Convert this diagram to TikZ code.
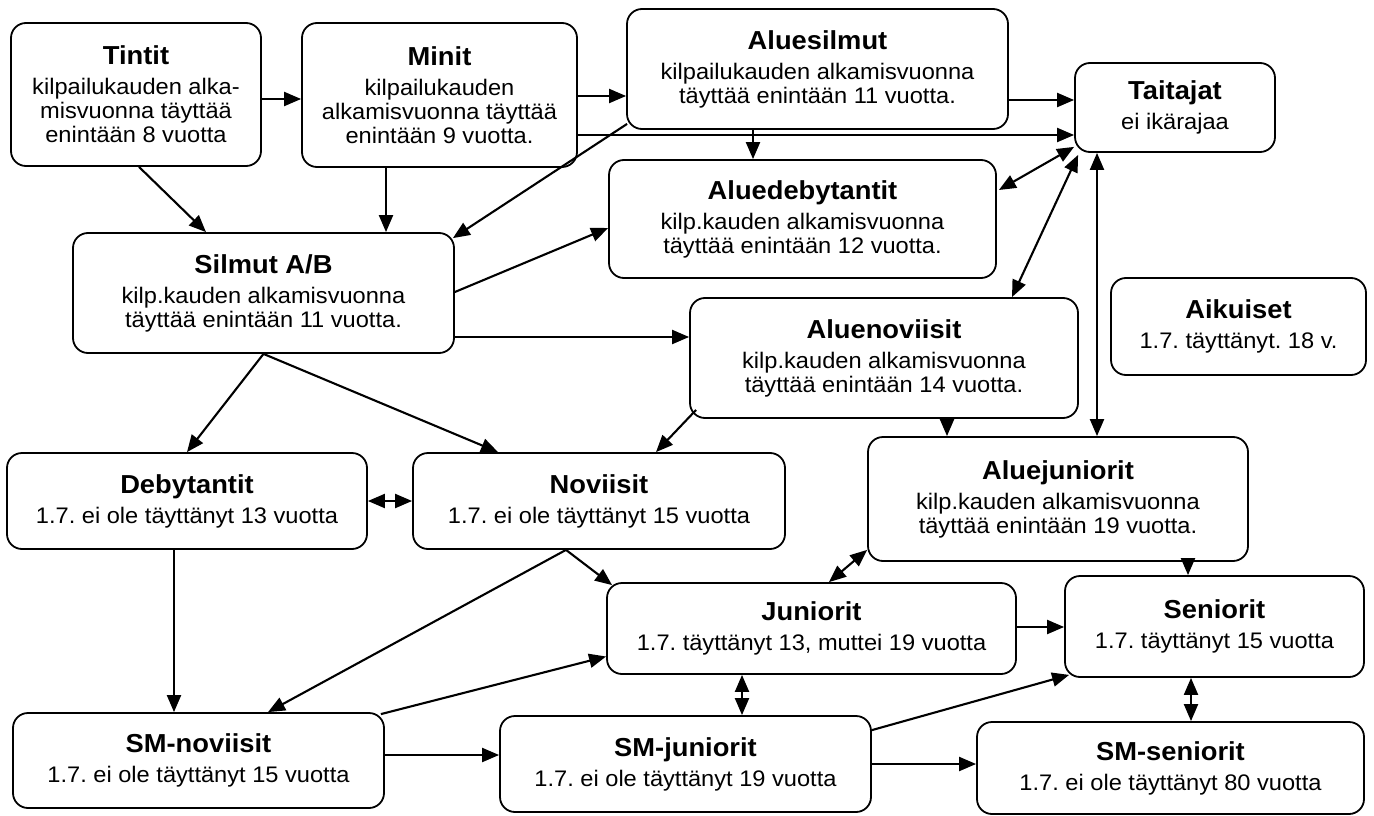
\documentclass[tikz,border=0pt]{standalone}
\usepackage{fontspec}
\setmainfont{Liberation Sans}[FakeStretch=1.05]
\usetikzlibrary{arrows.meta,calc}
\newcommand{\ttl}[1]{{\bfseries\fontsize{26}{24}\selectfont #1}\\[6pt]}
\frenchspacing
\begin{document}
\begin{tikzpicture}[x=1pt,y=-1pt,
  box/.style={draw,line width=1.8pt,rounded corners=15pt,align=center,inner sep=0pt,
    font=\frenchspacing\fontsize{22.5}{24}\selectfont},
  conn/.style={line width=2.1pt,-{Triangle[length=17pt,width=14pt]}},
  dconn/.style={line width=2.1pt,{Triangle[length=17pt,width=14pt]}-{Triangle[length=17pt,width=14pt]}},
]
\useasboundingbox (0,0) rectangle (1374,816);

\node[box,minimum width=250pt,minimum height=143pt] (tintit) at (136,94.5)
  {\ttl{Tintit}kilpailukauden alka-\\misvuonna täyttää\\enintään 8 vuotta};
\node[box,minimum width=275pt,minimum height=144pt] (minit) at (439.5,95)
  {\ttl{Minit}kilpailukauden\\alkamisvuonna täyttää\\enintään 9 vuotta.};
\node[box,minimum width=381pt,minimum height=120pt] (aluesilmut) at (817.5,69)
  {\ttl{Aluesilmut}kilpailukauden alkamisvuonna\\täyttää enintään 11 vuotta.};
\node[box,minimum width=200pt,minimum height=89pt] (taitajat) at (1175,107.5)
  {\ttl{Taitajat}ei ikärajaa};
\node[box,minimum width=387pt,minimum height=118pt] (aluedebytantit) at (802.5,219)
  {\ttl{Aluedebytantit}kilp.kauden alkamisvuonna\\täyttää enintään 12 vuotta.};
\node[box,minimum width=381pt,minimum height=120pt] (silmut) at (263.5,293)
  {\ttl{Silmut A/B}kilp.kauden alkamisvuonna\\täyttää enintään 11 vuotta.};
\node[box,minimum width=255pt,minimum height=97pt] (aikuiset) at (1238.5,326.5)
  {\ttl{Aikuiset}1.7. täyttänyt. 18 v.};
\node[box,minimum width=388pt,minimum height=120pt] (aluenoviisit) at (884,358)
  {\ttl{Aluenoviisit}kilp.kauden alkamisvuonna\\täyttää enintään 14 vuotta.};
\node[box,minimum width=360pt,minimum height=96pt] (debytantit) at (187,501)
  {\ttl{Debytantit}1.7. ei ole täyttänyt 13 vuotta};
\node[box,minimum width=372pt,minimum height=96pt] (noviisit) at (599,501)
  {\ttl{Noviisit}1.7. ei ole täyttänyt 15 vuotta};
\node[box,minimum width=380pt,minimum height=124pt] (aluejuniorit) at (1058,499)
  {\ttl{Aluejuniorit}kilp.kauden alkamisvuonna\\täyttää enintään 19 vuotta.};
\node[box,minimum width=409pt,minimum height=91pt] (juniorit) at (811.5,628.5)
  {\ttl{Juniorit}1.7. täyttänyt 13, muttei 19 vuotta};
\node[box,minimum width=299pt,minimum height=101pt] (seniorit) at (1214.5,626.5)
  {\ttl{Seniorit}1.7. täyttänyt 15 vuotta};
\node[box,minimum width=371pt,minimum height=95pt] (smnoviisit) at (198.5,760.5)
  {\ttl{SM-noviisit}1.7. ei ole täyttänyt 15 vuotta};
\node[box,minimum width=371pt,minimum height=96pt] (smjuniorit) at (685.5,764)
  {\ttl{SM-juniorit}1.7. ei ole täyttänyt 19 vuotta};
\node[box,minimum width=387pt,minimum height=92pt] (smseniorit) at (1170.5,768)
  {\ttl{SM-seniorit}1.7. ei ole täyttänyt 80 vuotta};

\draw[conn] ($(tintit.east)+(0,4.5)$) -- ($(minit.west)+(0,4)$);
\draw[conn] ($(minit.east)+(0,1)$) -- ($(aluesilmut.west)+(0,27)$);
\draw[conn] ($(minit.east)+(0,40)$) -- ($(taitajat.west)+(0,27.5)$);
\draw[conn] ($(aluesilmut.east)+(0,31)$) -- ($(taitajat.west)+(0,-7.5)$);
\draw[conn] ($(tintit.south)+(3,0)$) -- ($(silmut.north)+(-57.5,0)$);
\draw[conn] ($(minit.south)+(-53.5,0)$) -- ($(silmut.north)+(122.5,0)$);
\draw[conn] ($(aluesilmut.south west)+(1,-6)$) -- ($(silmut.north east)+(-2,6)$);
\draw[conn] ($(aluesilmut.south)+(-64.5,0)$) -- ($(aluedebytantit.north)+(-49.5,0)$);
\draw[conn] ($(silmut.east)+(0,-1)$) -- ($(aluedebytantit.west)+(0,9)$);
\draw[conn] ($(silmut.east)+(0,44)$) -- ($(aluenoviisit.west)+(0,-21)$);
\draw[conn] (silmut.south) -- (debytantit.north);
\draw[conn] (silmut.south) -- ($(noviisit.north)+(-101,0)$);
\draw[conn] ($(aluenoviisit.south west)+(7,-9)$) -- ($(noviisit.north)+(57,0)$);
\draw[dconn] (debytantit.east) -- (noviisit.west);
\draw[conn] ($(debytantit.south)+(-13,0)$) -- ($(smnoviisit.north)+(-24.5,0)$);
\draw[conn] ($(noviisit.south)+(-33,0)$) -- ($(smnoviisit.north)+(69.5,0)$);
\draw[conn] ($(noviisit.south)+(-33,0)$) -- ($(juniorit.north west)+(6,3)$);
\draw[conn] ($(smnoviisit.north east)+(-4,2)$) -- ($(juniorit.west)+(0,28)$);
\draw[conn] ($(smnoviisit.east)+(0,-5.5)$) -- ($(smjuniorit.west)+(0,-9)$);
\draw[dconn] ($(juniorit.south)+(-69.5,0)$) -- ($(smjuniorit.north)+(56.5,0)$);
\draw[conn] (smjuniorit.east) -- ($(smseniorit.west)+(0,-4)$);
\draw[conn] ($(smjuniorit.north east)+(0,15)$) -- ($(seniorit.south west)+(5,-3)$);
\draw[conn] ($(juniorit.east)+(0,-1.5)$) -- ($(seniorit.west)+(0,0.5)$);
\draw[dconn] ($(seniorit.south)+(-23.5,0)$) -- ($(smseniorit.north)+(20.5,0)$);
\draw[conn] ($(aluejuniorit.south)+(130,0)$) -- ($(seniorit.north)+(-26.5,0)$);
\draw[dconn] ($(juniorit.north)+(17.5,0)$) -- ($(aluejuniorit.south west)+(0,-12)$);
\draw[conn] ($(aluenoviisit.south)+(63,0)$) -- ($(aluejuniorit.north)+(-111,0)$);
\draw[dconn] ($(taitajat.south)+(-78,0)$) -- ($(aluejuniorit.north)+(39,0)$);
\draw[dconn] ($(taitajat.south west)+(4,2)$) -- ($(aluenoviisit.north)+(128,0)$);
\draw[dconn] ($(taitajat.south west)+(0,-6)$) -- ($(aluedebytantit.east)+(2,-29)$);
\end{tikzpicture}
\end{document}
